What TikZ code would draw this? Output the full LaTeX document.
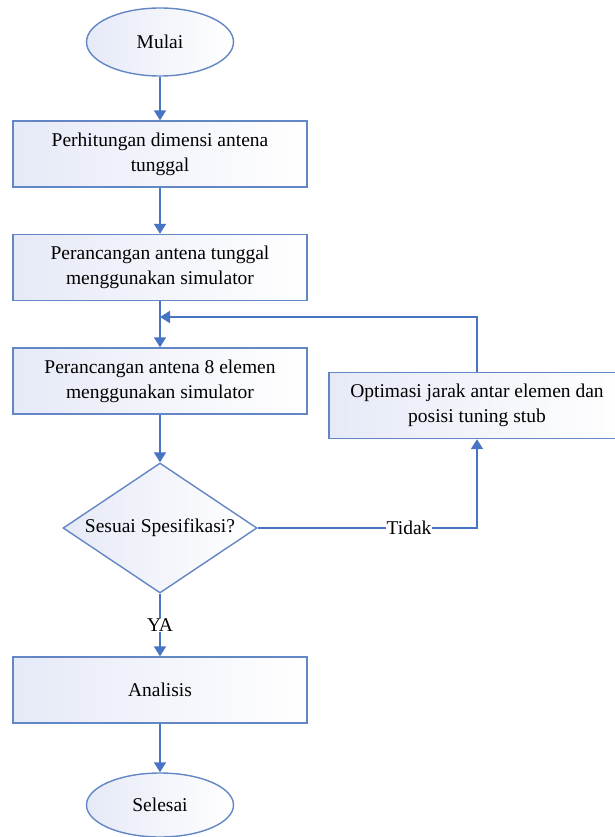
\documentclass[tikz,border=0pt]{standalone}
\usepackage{fontspec}
\setmainfont{Liberation Serif}
\usetikzlibrary{shapes.geometric,arrows.meta}
\definecolor{boxline}{RGB}{98,135,196}
\definecolor{flowline}{RGB}{72,116,196}
\definecolor{boxfill}{RGB}{230,234,247}

\begin{document}
\begin{tikzpicture}[
        x=1pt,
        y=-1pt,
        every node/.style={font=\fontsize{19.5}{25}\selectfont},
        process/.style={
            draw=boxline,
            line width=1.4pt,
            left color=boxfill,
            right color=white,
            minimum width=294pt,
            minimum height=66pt,
            inner sep=0pt,
            align=center
        },
        terminal/.style={
            ellipse,
            draw=boxline,
            line width=1.4pt,
            left color=boxfill,
            right color=white,
            minimum width=147pt,
            minimum height=68pt,
            inner sep=0pt
        },
        decision/.style={
            diamond,
            draw=boxline,
            line width=1.4pt,
            left color=boxfill,
            right color=white,
            minimum width=194pt,
            minimum height=130pt,
            aspect=1.5,
            inner sep=0pt
        },
        flow/.style={
            draw=flowline,
            line width=1.8pt,
            -{Triangle[width=12pt,length=10pt]}
        },
        answer/.style={fill=white, inner sep=1pt}
    ]
        \useasboundingbox (0,0) rectangle (614,837);

        % Main column, centre x=160
        \node[terminal] (mulai) at (160,42) {Mulai};
        \node[process] (hitung) at (160,154)
            {Perhitungan dimensi antena\\tunggal};
        \node[process] (tunggal) at (160,267.5)
            {Perancangan antena tunggal\\menggunakan simulator};
        \node[process] (delapan) at (160,381)
            {Perancangan antena 8 elemen\\menggunakan simulator};
        \node[decision] (sesuai) at (160,528) {Sesuai Spesifikasi?};
        \node[process] (analisis) at (160,690) {Analisis};
        \node[terminal, minimum height=64pt] (selesai) at (160,805) {Selesai};

        % Loop back box, cut by the right edge
        \node[process, minimum width=296pt] (optimasi) at (477,405.5)
            {Optimasi jarak antar elemen dan\\posisi tuning stub};

        \coordinate (gabung) at (160,317);

        \draw[flow] (mulai) -- (hitung);
        \draw[flow] (hitung) -- (tunggal);
        \draw[flow] (tunggal) -- (delapan);
        \draw[flow] (delapan) -- (sesuai);
        \draw[flow] (sesuai) -- node[answer] {YA} (analisis);
        \draw[flow] (sesuai.east) -- node[answer, pos=0.69] {Tidak}
            (sesuai.east -| optimasi.south) -- (optimasi.south);
        \draw[flow] (optimasi.north) |- (gabung);
        \draw[flow] (analisis) -- (selesai);

    \end{tikzpicture}
\end{document}
